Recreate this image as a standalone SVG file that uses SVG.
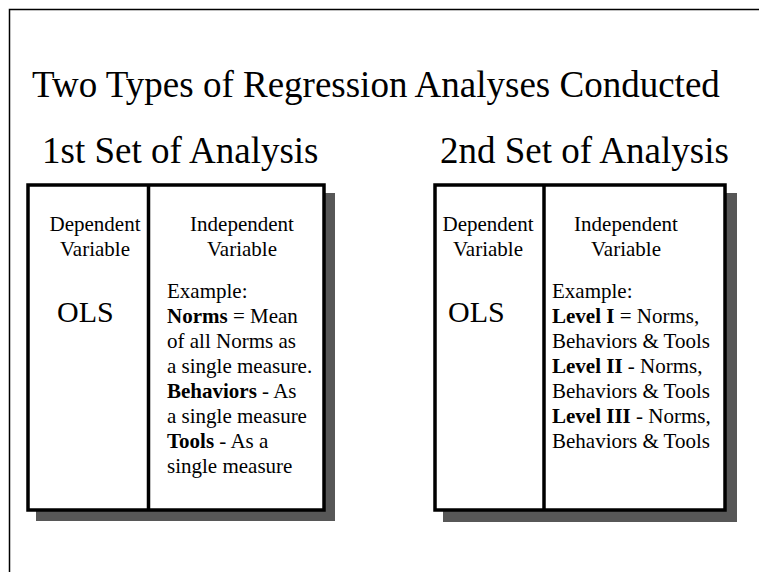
<svg xmlns="http://www.w3.org/2000/svg" width="759" height="572" viewBox="0 0 759 572">
  <style>
    .txt { font-family: "Liberation Serif", "Times New Roman", serif; fill: #000; }
    .title { font-size: 37px; }
    .body { font-size: 21px; }
    .ols { font-size: 30px; }
    .b { font-weight: bold; }
    .frame { fill: none; stroke: #000; stroke-width: 1.5; }
    .box { fill: #fff; stroke: #000; stroke-width: 3.5; }
    .divider { stroke: #000; stroke-width: 3.5; }
    .shadow { fill: #575757; }
  </style>
  <rect width="759" height="572" fill="#fff"/>

  <!-- page frame (top and left edges) -->
  <path class="frame" d="M9.5 572 V9.5 H759"/>

  <!-- headings -->
  <text class="txt title" x="32" y="97">Two Types of Regression Analyses Conducted</text>
  <text class="txt title" x="42" y="163">1st Set of Analysis</text>
  <text class="txt title" x="440" y="163">2nd Set of Analysis</text>

  <!-- first table -->
  <g id="set1">
    <rect class="shadow" x="36" y="193" width="299" height="328"/>
    <rect class="box" x="28" y="185" width="296" height="325"/>
    <line class="divider" x1="148.5" y1="185" x2="148.5" y2="510"/>
    <text class="txt body" x="95" y="231" text-anchor="middle">Dependent</text>
    <text class="txt body" x="95" y="256" text-anchor="middle">Variable</text>
    <text class="txt ols" x="57" y="322">OLS</text>
    <text class="txt body" x="242" y="231" text-anchor="middle">Independent</text>
    <text class="txt body" x="242" y="256" text-anchor="middle">Variable</text>
    <text class="txt body" x="167" y="298">Example:</text>
    <text class="txt body" x="167" y="323"><tspan class="b">Norms</tspan> = Mean</text>
    <text class="txt body" x="167" y="348">of all Norms as</text>
    <text class="txt body" x="167" y="373">a single measure.</text>
    <text class="txt body" x="167" y="398"><tspan class="b">Behaviors</tspan> - As</text>
    <text class="txt body" x="167" y="423">a single measure</text>
    <text class="txt body" x="167" y="448"><tspan class="b">Tools</tspan> - As a</text>
    <text class="txt body" x="167" y="473">single measure</text>
  </g>

  <!-- second table -->
  <g id="set2">
    <rect class="shadow" x="443" y="193" width="294" height="329"/>
    <rect class="box" x="435" y="185" width="290" height="325"/>
    <line class="divider" x1="544" y1="185" x2="544" y2="510"/>
    <text class="txt body" x="488" y="231" text-anchor="middle">Dependent</text>
    <text class="txt body" x="488" y="256" text-anchor="middle">Variable</text>
    <text class="txt ols" x="448" y="322">OLS</text>
    <text class="txt body" x="626" y="231" text-anchor="middle">Independent</text>
    <text class="txt body" x="626" y="256" text-anchor="middle">Variable</text>
    <text class="txt body" x="552" y="298">Example:</text>
    <text class="txt body" x="552" y="323"><tspan class="b">Level I</tspan> = Norms,</text>
    <text class="txt body" x="552" y="348">Behaviors &amp; Tools</text>
    <text class="txt body" x="552" y="373"><tspan class="b">Level II</tspan> - Norms,</text>
    <text class="txt body" x="552" y="398">Behaviors &amp; Tools</text>
    <text class="txt body" x="552" y="423"><tspan class="b">Level III</tspan> - Norms,</text>
    <text class="txt body" x="552" y="448">Behaviors &amp; Tools</text>
  </g>
</svg>
